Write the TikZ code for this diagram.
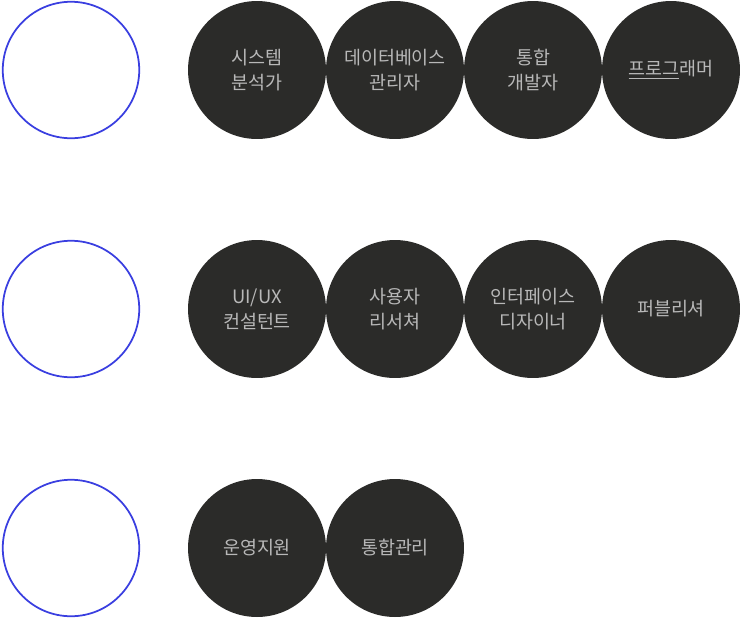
\documentclass[tikz,border=0pt]{standalone}
\usepackage{fontspec}
\setmainfont{Noto Sans CJK KR}
\usepackage{tikz}
\usetikzlibrary{positioning}

\definecolor{ringblue}{HTML}{3A3FE0}
\definecolor{roledark}{HTML}{2B2B29}
\definecolor{roletext}{HTML}{B8B8B8}

\begin{document}
\begin{tikzpicture}[
        x=0.02cm, y=-0.02cm,
        ringbox/.style={
            circle, draw=ringblue, line width=1pt,
            minimum size=2.73cm, inner sep=0pt
        },
        rolebox/.style={
            circle, fill=roledark, text=roletext,
            minimum size=2.76cm, inner sep=0pt,
            align=center, font=\fontsize{10.5}{14}\selectfont
        }
    ]
        \useasboundingbox (0,0) rectangle (740,620);

        % left rings
        \node[ringbox] (ring1) at (71,70) {};
        \node[ringbox] (ring2) at (71,309) {};
        \node[ringbox] (ring3) at (71,548) {};

        % first row
        \node[rolebox] (analyst) at (257,70) {시스템\\분석가};
        \node[rolebox] (dba) at (395,70) {데이터베이스\\관리자};
        \node[rolebox] (integdev) at (533,70) {통합\\개발자};
        \node[rolebox] (programmer) at (671,70) {\underline{프로그}래머};

        % second row
        \node[rolebox] (uxconsult) at (257,309) {UI/UX\\컨설턴트};
        \node[rolebox] (uxresearch) at (395,309) {사용자\\리서쳐};
        \node[rolebox] (uidesign) at (533,309) {인터페이스\\디자이너};
        \node[rolebox] (publisher) at (671,309) {퍼블리셔};

        % third row
        \node[rolebox] (operation) at (257,548) {운영지원};
        \node[rolebox] (integmgmt) at (395,548) {통합관리};
    \end{tikzpicture}
\end{document}
